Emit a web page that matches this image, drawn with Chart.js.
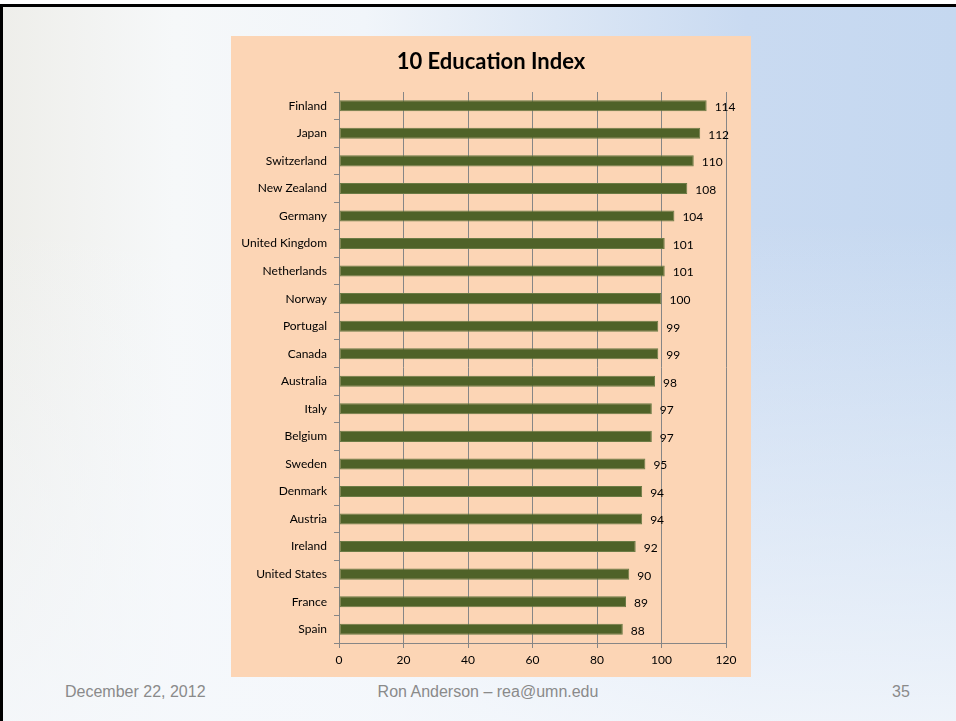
<!DOCTYPE html>
<html>
<head>
<meta charset="utf-8">
<script src="https://cdn.jsdelivr.net/npm/chart.js@4/dist/chart.umd.min.js"></script>
<style>
  html, body { margin: 0; padding: 0; background: #fff; }
  body { width: 956px; height: 721px; position: relative; overflow: hidden; }
  .slide {
    position: absolute; left: 0; top: 4px; width: 953px; height: 714px;
    border-top: 3px solid #000; border-left: 3px solid #000;
    background:
      linear-gradient(to bottom, rgba(255,255,255,0) 0%, rgba(255,255,255,0) 30%, rgba(245,248,252,0.85) 100%),
      linear-gradient(to right, #eeeeea 0%, #f6f8f9 18%, #f1f5fa 38%, #dce7f5 58%, #c9daf1 78%, #c5d8f0 100%);
  }
  .box {
    position: absolute; left: 231px; top: 36px; width: 520px; height: 641px;
    background: #fcd5b5;
  }
  .foot {
    position: absolute; top: 682px; line-height: 20px;
    font-family: "Liberation Sans", Arial, sans-serif; font-size: 16px; color: #8a8a8a;
    white-space: nowrap;
  }
</style>
</head>
<body>
<div class="slide"></div>
<div class="box"><canvas id="myChart"></canvas></div>
<div class="foot" style="left:65px">December 22, 2012</div>
<div class="foot" style="left:488px; transform: translateX(-50%)">Ron Anderson – rea@umn.edu</div>
<div class="foot" style="left:892px">35</div>

<script>
const chartTitle = '10 Education Index';
const countries = ['Finland', 'Japan', 'Switzerland', 'New Zealand', 'Germany', 'United Kingdom',
    'Netherlands', 'Norway', 'Portugal', 'Canada', 'Australia', 'Italy', 'Belgium', 'Sweden',
    'Denmark', 'Austria', 'Ireland', 'United States', 'France', 'Spain'];
const scores = [114, 112, 110, 108, 104, 101, 101, 100, 99, 99, 98, 97, 97, 95, 94, 94, 92, 90, 89, 88];
const xMin = 0, xMax = 120, xStep = 20;

// title centred on the whole canvas, not on the padded layout box
const boxTitle = {
    id: 'boxTitle',
    afterDraw(chart) {
        const ctx = chart.ctx;
        ctx.save();
        ctx.font = 'bold 22px Lato';
        ctx.fillStyle = '#000';
        ctx.textAlign = 'center';
        ctx.textBaseline = 'middle';
        ctx.fillText(chartTitle, chart.width / 2, 26);
        ctx.restore();
    }
};

// writes each score just past the end of its bar
const barValues = {
    id: 'barValues',
    afterDatasetsDraw(chart) {
        const ctx = chart.ctx;
        const meta = chart.getDatasetMeta(0);
        ctx.save();
        ctx.font = '12px Lato';
        ctx.fillStyle = '#000';
        ctx.textAlign = 'left';
        ctx.textBaseline = 'middle';
        meta.data.forEach((bar, i) => {
            ctx.fillText(scores[i], bar.x + 8, bar.y + 1.5);
        });
        ctx.restore();
    }
};

function drawChart() {
    new Chart(document.getElementById('myChart').getContext('2d'), {
        type: 'bar',
        data: {
            labels: countries,
            datasets: [{
                data: scores,
                backgroundColor: '#4f6228',
                borderColor: '#6b7b45',
                borderWidth: 1,
                borderSkipped: false,
                categoryPercentage: 1,
                barPercentage: 0.4
            }]
        },
        options: {
            indexAxis: 'y',
            responsive: true,
            maintainAspectRatio: false,
            animation: false,
            layout: { padding: { left: 0, right: 25, top: 56, bottom: 0 } },
            plugins: {
                legend: { display: false },
                tooltip: { enabled: false },
                title: { display: false }
            },
            scales: {
                x: {
                    min: xMin,
                    max: xMax,
                    ticks: {
                        stepSize: xStep,
                        color: '#000',
                        padding: 4.8,
                        maxRotation: 0,
                        font: { family: 'Lato', size: 12 }
                    },
                    grid: { color: '#868686', tickLength: 5, drawTicks: true },
                    border: { color: '#868686' },
                    afterFit(scale) { scale.height = 34; }
                },
                y: {
                    ticks: {
                        color: '#000',
                        padding: 7,
                        font: { family: 'Lato', size: 12 }
                    },
                    grid: { color: '#868686', drawOnChartArea: false, tickLength: 5, offset: true },
                    border: { color: '#868686' },
                    afterFit(scale) { scale.width = 108; }
                }
            }
        },
        plugins: [barValues, boxTitle]
    });
}

drawChart();
</script>
</body>
</html>
